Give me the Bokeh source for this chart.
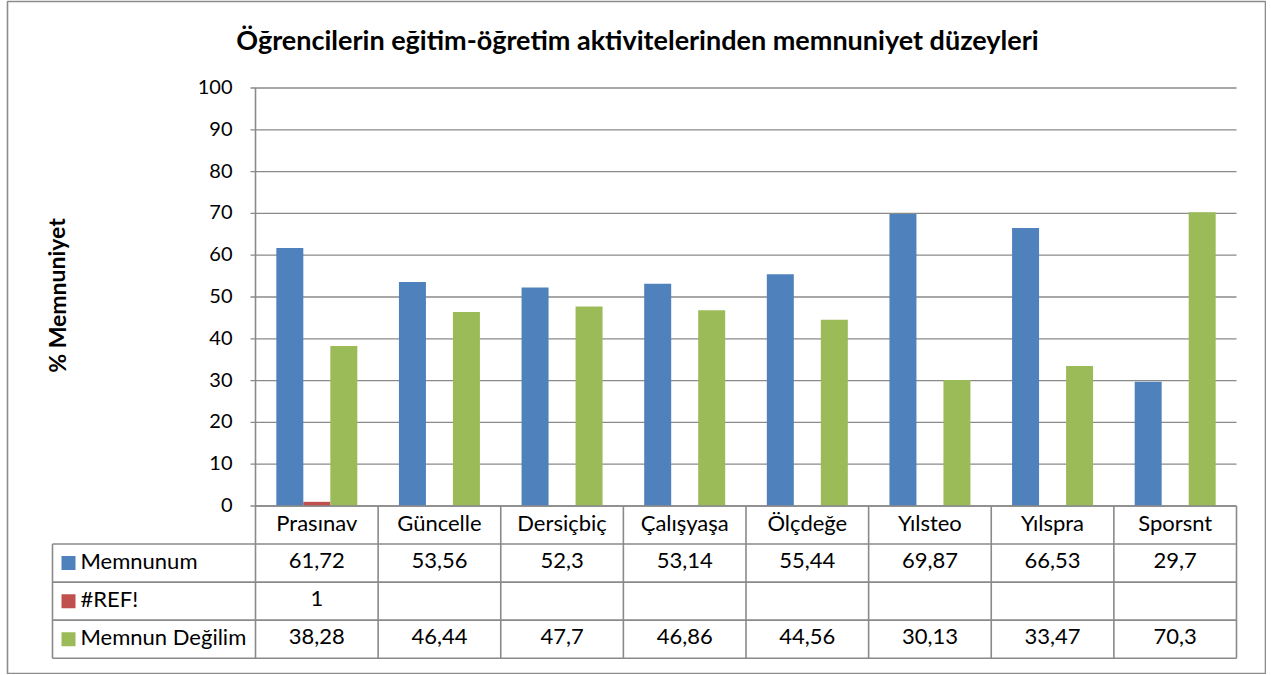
from bokeh.plotting import figure
from bokeh.models import Range1d
from bokeh.core.properties import value
from bokeh.embed import file_html
from bokeh.resources import INLINE

# ---------------- data ----------------
categories = ["Prasınav", "Güncelle", "Dersiçbiç", "Çalışyaşa", "Ölçdeğe", "Yılsteo", "Yılspra", "Sporsnt"]
series_names = ["Memnunum", "#REF!", "Memnun Değilim"]
memnunum = [61.72, 53.56, 52.3, 53.14, 55.44, 69.87, 66.53, 29.7]
ref_err = [1, None, None, None, None, None, None, None]
memnun_degilim = [38.28, 46.44, 47.7, 46.86, 44.56, 30.13, 33.47, 70.3]
y_ticks = [0, 10, 20, 30, 40, 50, 60, 70, 80, 90, 100]
title_text = "Öğrencilerin eğitim-öğretim aktivitelerinden memnuniyet düzeyleri"
y_label = "% Memnuniyet"

series = [memnunum, ref_err, memnun_degilim]
colors = ["#4F81BD", "#C0504D", "#9BBB59"]
grid_col = "#8a8a8a"
FONT = value("Lato")

# ---------------- layout (screen pixels) ----------------
W, H = 1266, 674
MB_L, MB_T, MB_R, MB_B = 7, 1, 1, 1
FL, FT = MB_L, MB_T
FW, FH = W - MB_L - MB_R, H - MB_T - MB_B
PL, PR = 255, 1236            # plot area left/right
Y0 = 505.5                    # screen y of value 0
SX = (PR - PL) / len(categories)
SY = 4.18                     # px per unit
ROW_H = 38.05
TXT_UP = 2.5                  # optical lift for table text


def dx(px):
    return (px - PL) / SX


def dy(py):
    return (Y0 - py) / SY


p = figure(width=W, height=H, output_backend="svg", toolbar_location=None,
           x_range=Range1d(dx(FL), dx(FL + FW)), y_range=Range1d(dy(FT + FH), dy(FT)),
           min_border_left=MB_L, min_border_top=MB_T, min_border_right=MB_R, min_border_bottom=MB_B)
p.axis.visible = False
p.grid.visible = False
p.outline_line_color = "#8c8c8c"
p.outline_line_width = 1.6
p.background_fill_color = "white"
p.border_fill_color = "white"

n = len(categories)
ymax = y_ticks[-1]

# gridlines + tick marks
tick_len = dx(PL - 5)
p.segment(x0=[tick_len] * len(y_ticks), x1=[n] * len(y_ticks), y0=y_ticks, y1=y_ticks,
          line_color=grid_col, line_width=1.3)

# bars
bw = 27.0 / SX
for k, (vals, col) in enumerate(zip(series, colors)):
    xs, tops = [], []
    for i, v in enumerate(vals):
        if v is not None:
            xs.append(i + 0.5 + (k - 1) * bw)
            tops.append(v)
    p.vbar(x=xs, top=tops, bottom=0, width=bw, fill_color=col, line_color=None)

# tick labels
p.text(x=[0] * len(y_ticks), y=y_ticks, text=[str(t) for t in y_ticks], x_offset=-23,
       y_offset=-1, text_align="right", text_baseline="middle", text_font=FONT,
       text_font_size="20px", text_color="black")

# table geometry
rows = [dy(Y0 + ROW_H * r) for r in range(len(series) + 2)]   # 0 .. bottom
xL = dx(52)

# horizontal table lines
p.segment(x0=[0], x1=[n], y0=[0], y1=[0], line_color=grid_col, line_width=1.6)
p.segment(x0=[xL] * (len(rows) - 1), x1=[n] * (len(rows) - 1), y0=rows[1:], y1=rows[1:],
          line_color=grid_col, line_width=1.6)
# vertical table lines
p.segment(x0=[0], x1=[0], y0=[ymax], y1=[rows[-1]], line_color=grid_col, line_width=1.6)
p.segment(x0=list(range(1, n + 1)), x1=list(range(1, n + 1)), y0=[0] * n, y1=[rows[-1]] * n,
          line_color=grid_col, line_width=1.6)
p.segment(x0=[xL], x1=[xL], y0=[rows[1]], y1=[rows[-1]], line_color=grid_col, line_width=1.6)

# header (categories)
hy = (rows[0] + rows[1]) / 2
p.text(x=[i + 0.5 for i in range(n)], y=[hy] * n, text=categories, text_align="center",
       y_offset=-TXT_UP, text_baseline="middle", text_font=FONT, text_font_size="22px",
       text_color="black")


def fmt(v):
    return f"{v:g}".replace(".", ",")


for k, (name, vals, col) in enumerate(zip(series_names, series, colors)):
    ry = (rows[k + 1] + rows[k + 2]) / 2
    p.rect(x=[dx(68)], y=[ry], width=14, height=14, width_units="screen", height_units="screen",
           fill_color=col, line_color=None)
    p.text(x=[dx(80)], y=[ry], text=[name], text_align="left", text_baseline="middle",
           y_offset=-TXT_UP, text_font=FONT, text_font_size="22px", text_color="black")
    xs, labels = [], []
    for i, v in enumerate(vals):
        if v is not None:
            xs.append(i + 0.5)
            labels.append(fmt(v))
    p.text(x=xs, y=[ry] * len(xs), text=labels, text_align="center", text_baseline="middle",
           y_offset=-TXT_UP, text_font=FONT, text_font_size="22px", text_color="black")

# title
p.text(x=[dx(637)], y=[dy(39)], text=[title_text], text_align="center", text_baseline="middle",
       text_font=FONT, text_font_size="27px", text_font_style="bold", text_color="black")

# y axis label
p.text(x=[dx(56)], y=[dy(295)], text=[y_label], angle=1.5708, text_align="center",
       text_baseline="middle", text_font=FONT, text_font_size="23px", text_font_style="bold",
       text_color="black")

open("out.html", "w").write(file_html(p, INLINE))
